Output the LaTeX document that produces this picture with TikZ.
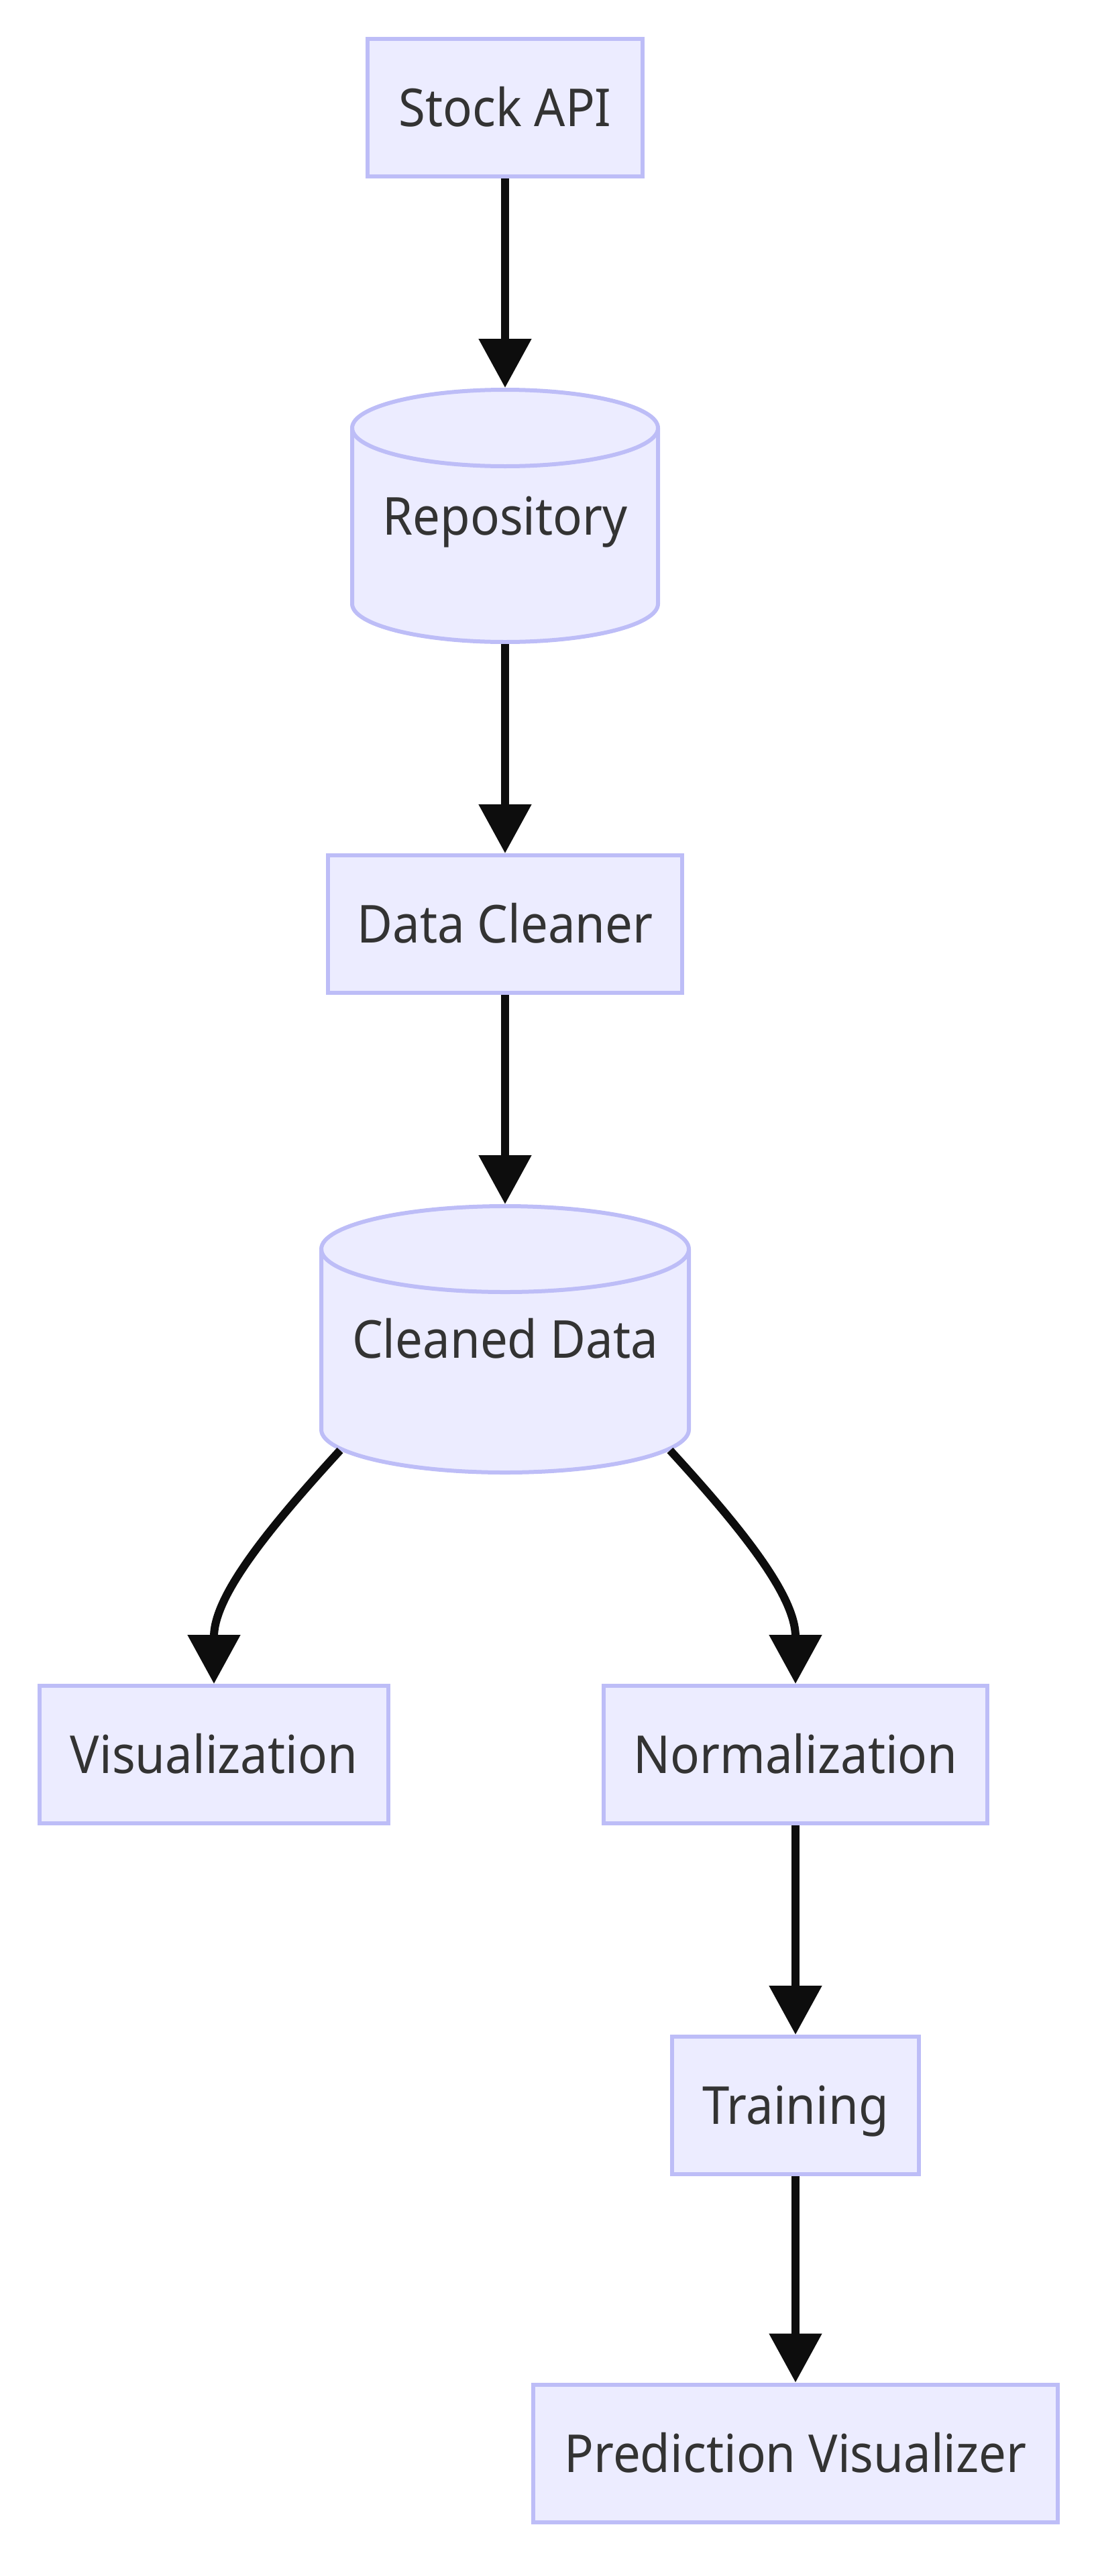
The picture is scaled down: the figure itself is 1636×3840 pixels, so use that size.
\documentclass[tikz,border=0pt]{standalone}
\usepackage{fontspec}
\setmainfont{Noto Sans}[FakeStretch=0.93]
\usetikzlibrary{arrows.meta,calc}
\definecolor{nodefill}{HTML}{ECECFF}
\definecolor{nodeline}{RGB}{189,189,247}
\definecolor{txt}{HTML}{333333}
\definecolor{edgec}{HTML}{0D0D0D}
\begin{document}
\begin{tikzpicture}[x=1pt,y=-1pt,
  lbl/.style={inner sep=0pt, text=txt, font=\fontsize{78}{94}\selectfont, text height=56pt, text depth=0pt},
  box/.style={lbl, draw=nodeline, fill=nodefill, line width=6pt, minimum height=205pt},
  cyl/.style={draw=nodeline, fill=nodefill, line width=6pt},
  cyllabel/.style={lbl, outer sep=0pt},
  edge/.style={draw=edgec, line width=12pt, -{Triangle[length=73pt,width=76pt]}}]
\useasboundingbox (0,0) rectangle (1636,3840);

% nodes
\node[box, minimum width=410pt] (sapi) at (753,160.5) {Stock API};

\path[cyl] (525,638) -- (525,900) arc[start angle=180,end angle=360,x radius=228pt,y radius=57pt]
  -- (981,638) arc[start angle=0,end angle=180,x radius=228pt,y radius=57pt] -- cycle;
\draw[cyl, fill=none] (525,638) arc[start angle=180,end angle=360,x radius=228pt,y radius=57pt];
\node[cyllabel, minimum width=462pt, minimum height=382pt] (repo) at (753,769) {Repository};

\node[box, minimum width=528pt] (dc) at (753,1377.5) {Data Cleaner};

\path[cyl] (479,1862) -- (479,2131) arc[start angle=180,end angle=360,x radius=274pt,y radius=64pt]
  -- (1027,1862) arc[start angle=0,end angle=180,x radius=274pt,y radius=64pt] -- cycle;
\draw[cyl, fill=none] (479,1862) arc[start angle=180,end angle=360,x radius=274pt,y radius=64pt];
\node[cyllabel, minimum width=554pt, minimum height=403pt] (cd) at (753,1996.5) {Cleaned Data};

\node[box, minimum width=520pt] (vis) at (319,2615.5) {Visualization};
\node[box, minimum width=572pt] (norm) at (1186,2615.5) {Normalization};
\node[box, minimum width=368pt] (train) at (1186,3138.5) {Training};
\node[box, minimum width=782pt] (pv) at (1186,3657) {Prediction Visualizer};

% edges
\draw[edge] (sapi.south) -- (repo.north);
\draw[edge] (repo.south) -- (dc.north);
\draw[edge] (dc.south) -- (cd.north);
\draw[edge] ($(cd.south)+(-246,-36)$) .. controls +(-110,120) and +(0,-130) .. (vis.north);
\draw[edge] ($(cd.south)+(246,-36)$) .. controls +(110,120) and +(0,-130) .. (norm.north);
\draw[edge] (norm.south) -- (train.north);
\draw[edge] (train.south) -- (pv.north);
\end{tikzpicture}
\end{document}
